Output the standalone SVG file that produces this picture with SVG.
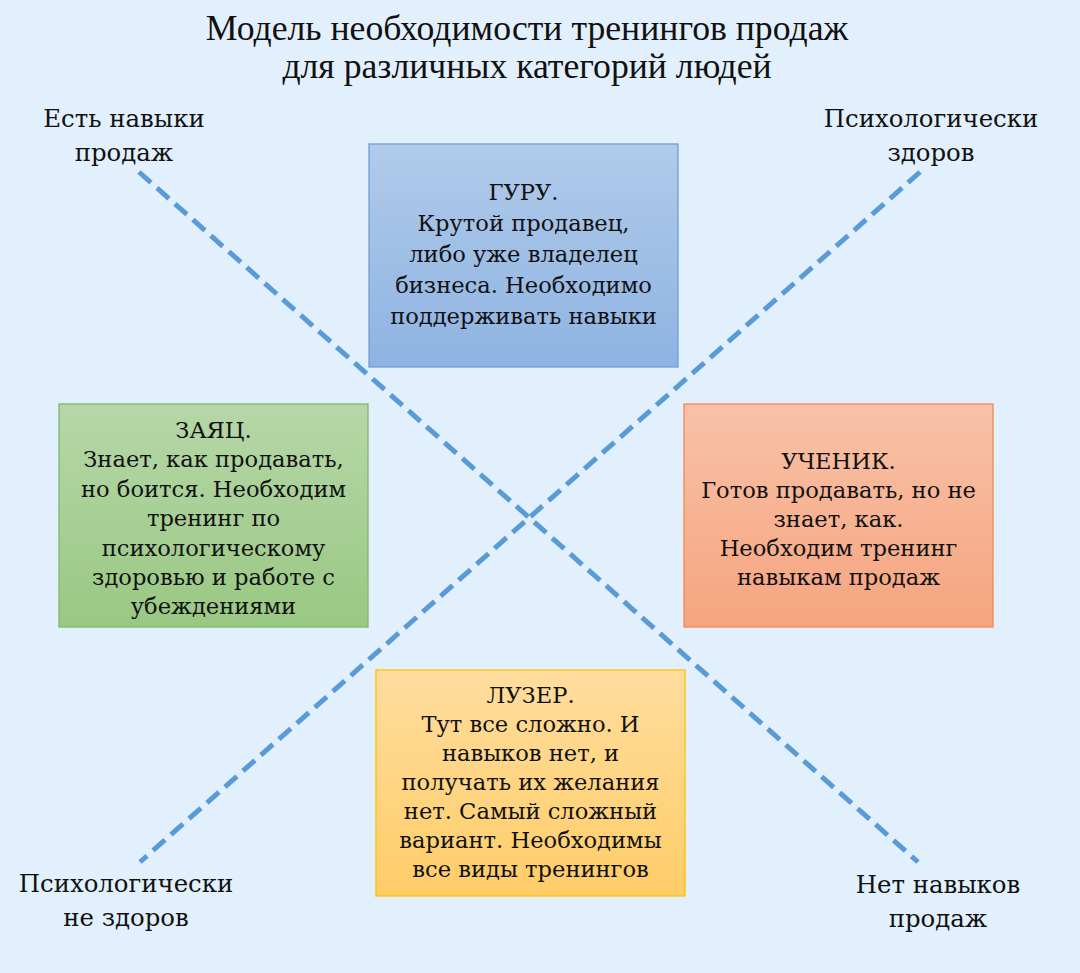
<svg xmlns="http://www.w3.org/2000/svg" width="1080" height="973" viewBox="0 0 1080 973">
<defs>
<linearGradient id="gBlue" x1="0" y1="0" x2="0" y2="1"><stop offset="0" stop-color="#b1cbea"/><stop offset="1" stop-color="#8eb3e2"/></linearGradient>
<linearGradient id="gGreen" x1="0" y1="0" x2="0" y2="1"><stop offset="0" stop-color="#b6d7a8"/><stop offset="1" stop-color="#9ac883"/></linearGradient>
<linearGradient id="gOrange" x1="0" y1="0" x2="0" y2="1"><stop offset="0" stop-color="#f8c2a8"/><stop offset="1" stop-color="#f6a47f"/></linearGradient>
<linearGradient id="gYellow" x1="0" y1="0" x2="0" y2="1"><stop offset="0" stop-color="#ffdd9e"/><stop offset="1" stop-color="#ffcd68"/></linearGradient>
</defs>
<style>
.title{font-family:"Liberation Serif","Times New Roman",serif;font-size:35.7px;fill:#111;text-anchor:middle}
.lbl{font-family:"DejaVu Serif",serif;font-size:24.4px;fill:#111;text-anchor:middle}
.box{font-family:"DejaVu Serif",serif;font-size:22.6px;fill:#111;text-anchor:middle}
.axis{stroke:#5b9bd5;stroke-width:5;stroke-dasharray:16 8;fill:none}
</style>
<rect width="1080" height="973" fill="#e2effd"/>
<g id="title">
<text class="title" x="527" y="40">Модель необходимости тренингов продаж</text>
<text class="title" x="527" y="78">для различных категорий людей</text>
</g>
<g id="connectors">
<line class="axis" x1="139" y1="172" x2="918" y2="862"/>
<line class="axis" x1="920" y1="172" x2="140" y2="862"/>
</g>
<g id="label-tl">
<text class="lbl" x="124" y="127">Есть навыки</text>
<text class="lbl" x="124" y="161">продаж</text>
</g>
<g id="label-tr">
<text class="lbl" x="931" y="127">Психологически</text>
<text class="lbl" x="931" y="161">здоров</text>
</g>
<g id="label-bl">
<text class="lbl" x="126" y="892">Психологически</text>
<text class="lbl" x="126" y="926">не здоров</text>
</g>
<g id="label-br">
<text class="lbl" x="938" y="893">Нет навыков</text>
<text class="lbl" x="938" y="927">продаж</text>
</g>
<g id="guru">
<rect x="369" y="144" width="309" height="223" fill="url(#gBlue)" stroke="#6f9fd4" stroke-width="1.3"/>
<text class="box" x="523.5" y="200">ГУРУ.</text>
<text class="box" x="523.5" y="231">Крутой продавец,</text>
<text class="box" x="523.5" y="262">либо уже владелец</text>
<text class="box" x="523.5" y="293">бизнеса. Необходимо</text>
<text class="box" x="523.5" y="324">поддерживать навыки</text>
</g>
<g id="zayats">
<rect x="59" y="404" width="309" height="223" fill="url(#gGreen)" stroke="#7fb866" stroke-width="1.3"/>
<text class="box" x="213.5" y="438">ЗАЯЦ.</text>
<text class="box" x="213.5" y="467">Знает, как продавать,</text>
<text class="box" x="213.5" y="497">но боится. Необходим</text>
<text class="box" x="213.5" y="526">тренинг по</text>
<text class="box" x="213.5" y="556">психологическому</text>
<text class="box" x="213.5" y="585">здоровью и работе с</text>
<text class="box" x="213.5" y="614">убеждениями</text>
</g>
<g id="uchenik">
<rect x="684" y="404" width="309" height="223" fill="url(#gOrange)" stroke="#f08a50" stroke-width="1.3"/>
<text class="box" x="838.5" y="469">УЧЕНИК.</text>
<text class="box" x="838.5" y="498">Готов продавать, но не</text>
<text class="box" x="838.5" y="527">знает, как.</text>
<text class="box" x="838.5" y="556">Необходим тренинг</text>
<text class="box" x="838.5" y="585">навыкам продаж</text>
</g>
<g id="luzer">
<rect x="376" y="670" width="309" height="226" fill="url(#gYellow)" stroke="#ffc000" stroke-width="1.3"/>
<text class="box" x="530.5" y="703">ЛУЗЕР.</text>
<text class="box" x="530.5" y="732">Тут все сложно. И</text>
<text class="box" x="530.5" y="761">навыков нет, и</text>
<text class="box" x="530.5" y="790">получать их желания</text>
<text class="box" x="530.5" y="819">нет. Самый сложный</text>
<text class="box" x="530.5" y="848">вариант. Необходимы</text>
<text class="box" x="530.5" y="877">все виды тренингов</text>
</g>
</svg>
